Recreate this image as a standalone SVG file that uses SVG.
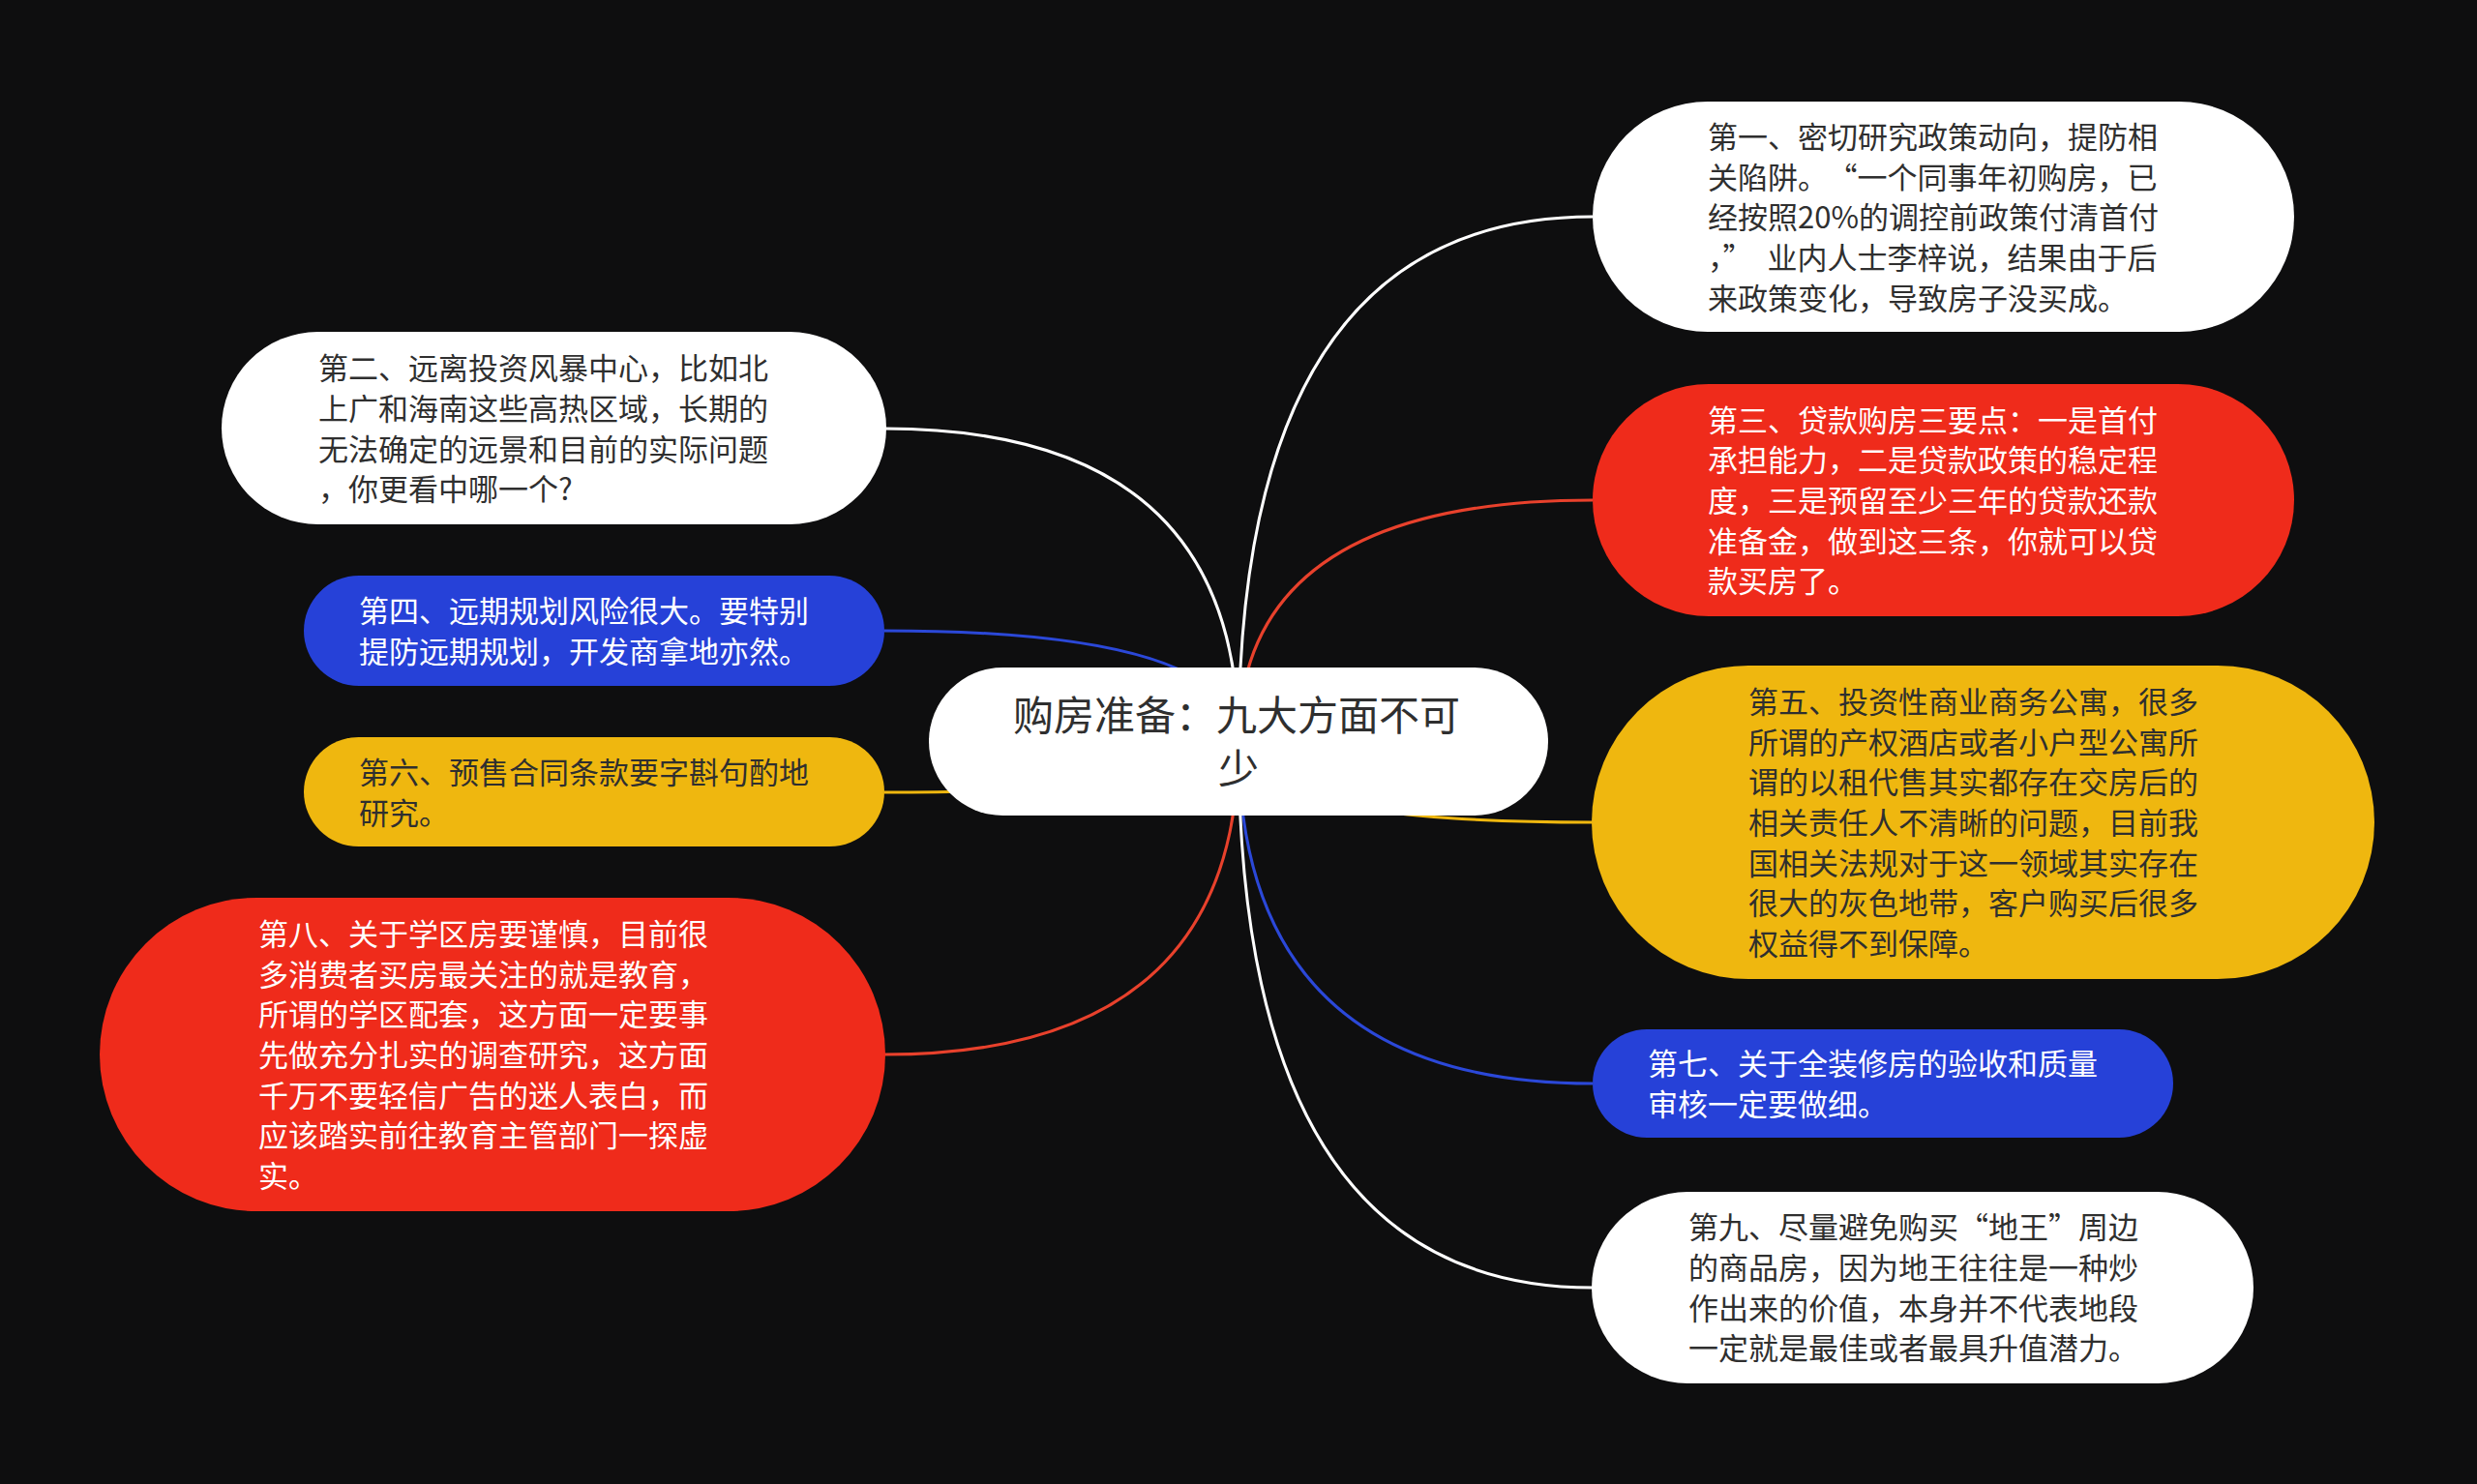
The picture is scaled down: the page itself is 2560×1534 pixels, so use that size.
<svg xmlns="http://www.w3.org/2000/svg" width="2560" height="1534" viewBox="0 0 2560 1534">
<style>
.t{font-family:"Noto Sans CJK SC","Noto Sans",sans-serif;font-size:31px}
.dark{fill:#2f2f2f}
.light{fill:#ffffff}
.c{fill:none;stroke-width:3}
.w{fill:#ffffff}
.r{fill:#ef2b1b}
.b{fill:#2641d8}
.y{fill:#efb70f}
</style>
<rect width="2560" height="1534" fill="#0e0e0f"/>
<g id="connectors">
<path class="c" stroke="#ffffff" d="M1280 767 Q1280 224 1646 224"/>
<path class="c" stroke="#e8412c" d="M1280 767 Q1280 517 1646 517"/>
<path class="c" stroke="#efb70f" d="M1280 767 Q1280 850 1646 850"/>
<path class="c" stroke="#2b48d8" d="M1280 767 Q1280 1120 1646 1120"/>
<path class="c" stroke="#ffffff" d="M1280 767 Q1280 1331 1646 1331"/>
<path class="c" stroke="#ffffff" d="M1280 767 Q1280 443 914 443"/>
<path class="c" stroke="#2b48d8" d="M1280 767 Q1280 652 914 652"/>
<path class="c" stroke="#efb70f" d="M1280 767 Q1280 819 914 819"/>
<path class="c" stroke="#e8412c" d="M1280 767 Q1280 1090 914 1090"/>
</g>
<g id="center">
<rect x="960" y="690" width="640" height="153" rx="76.5" fill="#ffffff"/>
<text font-family="Noto Sans CJK SC,Noto Sans,sans-serif" font-size="42" fill="#2f2f2f" text-anchor="middle"><tspan x="1278" y="755">购房准备：九大方面不可</tspan><tspan x="1280" y="810">少</tspan></text>
</g>
<g id="node1">
<rect class="w" x="1646" y="105" width="725" height="238" rx="119"/>
<text class="t dark"><tspan x="1765" y="153">第一、密切研究政策动向，提防相</tspan><tspan x="1765" y="195">关陷阱。<tspan dx="15">“</tspan>一个同事年初购房，已</tspan><tspan x="1765" y="236">经按照20%的调控前政策付清首付</tspan><tspan x="1765" y="278">，”<tspan dx="15">业</tspan>内人士李梓说，结果由于后</tspan><tspan x="1765" y="320">来政策变化，导致房子没买成。</tspan></text>
</g>
<g id="node2">
<rect class="w" x="229" y="343" width="687" height="199" rx="99.5"/>
<text class="t dark"><tspan x="329" y="392">第二、远离投资风暴中心，比如北</tspan><tspan x="329" y="434">上广和海南这些高热区域，长期的</tspan><tspan x="329" y="476">无法确定的远景和目前的实际问题</tspan><tspan x="329" y="517">，你更看中哪一个?</tspan></text>
</g>
<g id="node3">
<rect class="r" x="1646" y="397" width="725" height="240" rx="120"/>
<text class="t light"><tspan x="1765" y="446">第三、贷款购房三要点：一是首付</tspan><tspan x="1765" y="487">承担能力，二是贷款政策的稳定程</tspan><tspan x="1765" y="529">度，三是预留至少三年的贷款还款</tspan><tspan x="1765" y="571">准备金，做到这三条，你就可以贷</tspan><tspan x="1765" y="612">款买房了。</tspan></text>
</g>
<g id="node4">
<rect class="b" x="314" y="595" width="600" height="114" rx="57"/>
<text class="t light"><tspan x="371" y="643">第四、远期规划风险很大。要特别</tspan><tspan x="371" y="685">提防远期规划，开发商拿地亦然。</tspan></text>
</g>
<g id="node5">
<rect class="y" x="1645" y="688" width="809" height="324" rx="162"/>
<text class="t dark"><tspan x="1807" y="737">第五、投资性商业商务公寓，很多</tspan><tspan x="1807" y="779">所谓的产权酒店或者小户型公寓所</tspan><tspan x="1807" y="820">谓的以租代售其实都存在交房后的</tspan><tspan x="1807" y="862">相关责任人不清晰的问题，目前我</tspan><tspan x="1807" y="904">国相关法规对于这一领域其实存在</tspan><tspan x="1807" y="945">很大的灰色地带，客户购买后很多</tspan><tspan x="1807" y="987">权益得不到保障。</tspan></text>
</g>
<g id="node6">
<rect class="y" x="314" y="762" width="600" height="113" rx="56.5"/>
<text class="t dark"><tspan x="371" y="810">第六、预售合同条款要字斟句酌地</tspan><tspan x="371" y="852">研究。</tspan></text>
</g>
<g id="node7">
<rect class="b" x="1646" y="1064" width="600" height="112" rx="56"/>
<text class="t light"><tspan x="1703" y="1111">第七、关于全装修房的验收和质量</tspan><tspan x="1703" y="1153">审核一定要做细。</tspan></text>
</g>
<g id="node8">
<rect class="r" x="103" y="928" width="812" height="324" rx="162"/>
<text class="t light"><tspan x="267" y="977">第八、关于学区房要谨慎，目前很</tspan><tspan x="267" y="1019">多消费者买房最关注的就是教育，</tspan><tspan x="267" y="1060">所谓的学区配套，这方面一定要事</tspan><tspan x="267" y="1102">先做充分扎实的调查研究，这方面</tspan><tspan x="267" y="1144">千万不要轻信广告的迷人表白，而</tspan><tspan x="267" y="1185">应该踏实前往教育主管部门一探虚</tspan><tspan x="267" y="1227">实。</tspan></text>
</g>
<g id="node9">
<rect class="w" x="1645" y="1232" width="684" height="198" rx="99"/>
<text class="t dark"><tspan x="1745" y="1280">第九、尽量避免购买“地王”周边</tspan><tspan x="1745" y="1322">的商品房，因为地王往往是一种炒</tspan><tspan x="1745" y="1364">作出来的价值，本身并不代表地段</tspan><tspan x="1745" y="1405">一定就是最佳或者最具升值潜力。</tspan></text>
</g>
</svg>
